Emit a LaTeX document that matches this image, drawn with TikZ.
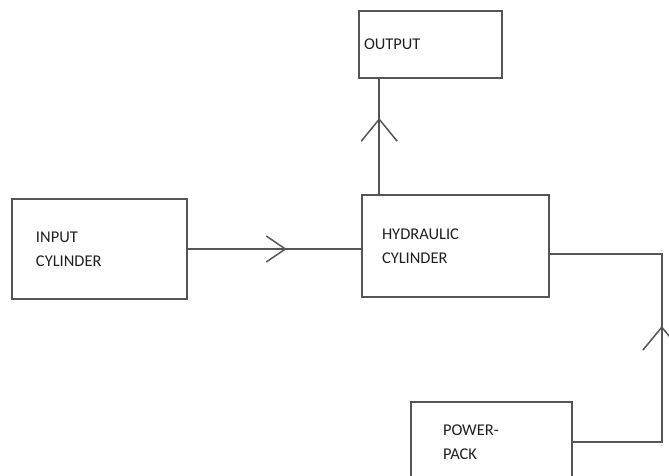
\documentclass[tikz,border=0pt]{standalone}
\usepackage{fontspec}
\setmainfont{Carlito}
\usetikzlibrary{arrows.meta, decorations.markings}
\definecolor{linegray}{HTML}{555555}
\definecolor{textgray}{HTML}{202020}

\tikzset{
  block/.style={draw=linegray, line width=1.6bp, text=textgray, align=left,
        font=\fontsize{16.5}{24}\selectfont, inner ysep=0pt},
  flow/.style={draw=linegray, line width=1.6bp},
  midarrow/.style n args={3}{postaction={decorate}, decoration={markings,
        mark=at position #1 with {\arrow{Straight Barb[length=#2, width=#3, line width=1.5bp]}}}}
}

\begin{document}
\begin{tikzpicture}[x=1bp, y=-1bp]
  \useasboundingbox (0,0) rectangle (669,476);

  \node[block, minimum width=143bp, minimum height=67bp, inner xsep=5bp,
        text width=133bp] (output) at (430.5,44.5) {OUTPUT};
  \node[block, minimum width=175bp, minimum height=100bp, inner xsep=24bp,
        text width=127bp] (inputcyl) at (99.5,249) {INPUT\\CYLINDER};
  \node[block, minimum width=187bp, minimum height=102bp, inner xsep=20bp,
        text width=147bp] (hydcyl) at (455.5,246) {HYDRAULIC\\CYLINDER};
  \node[block, minimum width=161bp, minimum height=80bp, inner xsep=32bp,
        text width=97bp] (powerpack) at (491.5,442) {POWER-\\PACK};

  % connectors
  \draw[flow, midarrow={0.66}{22bp}{36bp}] ([xshift=18bp]hydcyl.north west)
        -- ([xshift=18bp]hydcyl.north west |- output.south);
  \draw[flow, midarrow={0.57}{19bp}{26bp}] (inputcyl.east) -- (inputcyl.east -| hydcyl.west);
  \draw[flow, midarrow={0.527}{23bp}{38bp}] (powerpack.east)
        -| ([xshift=112bp, yshift=-8bp]hydcyl.east) -- ([yshift=-8bp]hydcyl.east);
\end{tikzpicture}
\end{document}
